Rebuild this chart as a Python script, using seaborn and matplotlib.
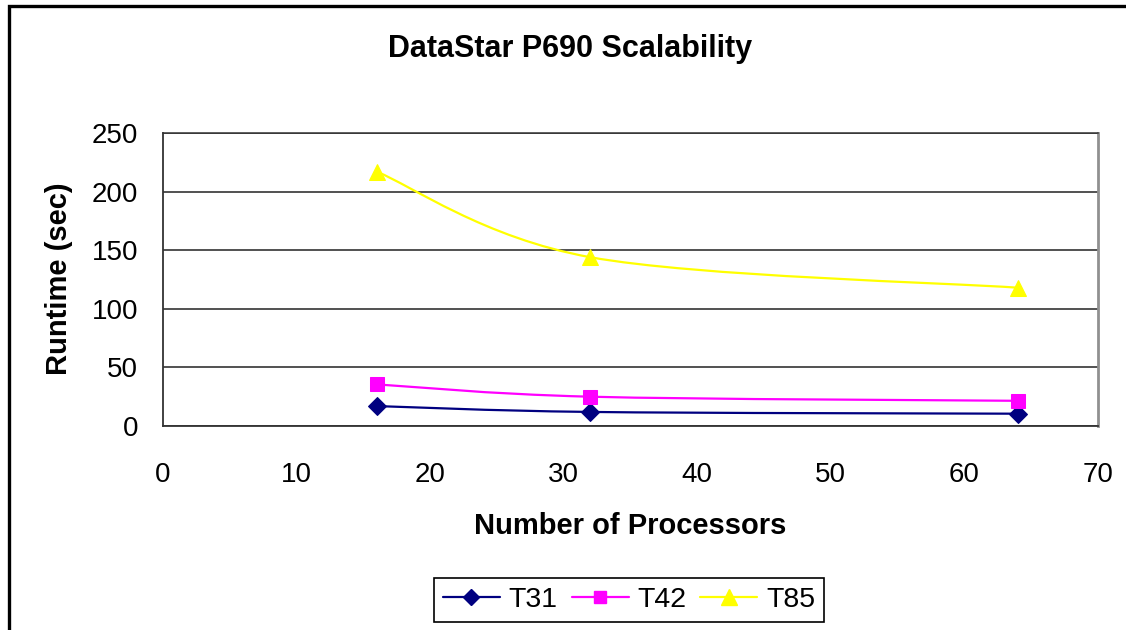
import numpy as np
import pandas as pd
import matplotlib
matplotlib.use("Agg")
import matplotlib.pyplot as plt
import seaborn as sns
from matplotlib.path import Path
from matplotlib.patches import PathPatch, Rectangle
from matplotlib.lines import Line2D

# ---- data ----
processors = [16, 32, 64]
t31 = [17, 12, 10.5]
t42 = [35.5, 25, 21.5]
t85 = [217, 144, 118]
series_names = ["T31", "T42", "T85"]
x_ticks = [0, 10, 20, 30, 40, 50, 60, 70]
y_ticks = [0, 50, 100, 150, 200, 250]
title = "DataStar P690 Scalability"
x_label = "Number of Processors"
y_label = "Runtime (sec)"

colors = {"T31": "#000080", "T42": "#FF00FF", "T85": "#FFFF00"}
markers = {"T31": "D", "T42": "s", "T85": "^"}
msizes = {"T31": 9, "T42": 10, "T85": 12}

df = pd.DataFrame({
    "Processors": processors * 3,
    "Runtime": t31 + t42 + t85,
    "Series": [s for s in series_names for _ in processors],
})

sns.set_theme(style="white")
plt.rcParams["font.family"] = ["Liberation Sans", "DejaVu Sans"]
plt.rcParams["text.color"] = "black"
plt.rcParams["axes.labelcolor"] = "black"
plt.rcParams["xtick.color"] = "black"
plt.rcParams["ytick.color"] = "black"

W, H = 1126, 630
fig = plt.figure(figsize=(W / 100, H / 100), dpi=100)
ax = fig.add_axes([163 / W, 1 - 426 / H, (1098 - 163) / W, (426 - 133) / H])


def smooth_path(xs, ys):
    """Excel-style smoothed line (Catmull-Rom as cubic Bezier)."""
    pts = np.column_stack([xs, ys]).astype(float)
    n = len(pts)
    verts = [pts[0]]
    codes = [Path.MOVETO]
    for i in range(n - 1):
        p0 = pts[i - 1] if i > 0 else pts[i]
        p1 = pts[i]
        p2 = pts[i + 1]
        p3 = pts[i + 2] if i + 2 < n else pts[i + 1]
        c1 = p1 + (p2 - p0) / 6.0
        c2 = p2 - (p3 - p1) / 6.0
        verts += [c1, c2, p2]
        codes += [Path.CURVE4] * 3
    return Path(verts, codes)


for name in series_names:
    sub = df[df["Series"] == name]
    ax.add_patch(PathPatch(smooth_path(sub["Processors"].values, sub["Runtime"].values),
                           facecolor="none", edgecolor=colors[name], lw=1.6, zorder=3))

for name in series_names:
    sub = df[df["Series"] == name]
    sns.lineplot(data=sub, x="Processors", y="Runtime", ax=ax, linestyle="",
                 marker=markers[name], markersize=msizes[name], color=colors[name],
                 markeredgecolor=colors[name], legend=False, zorder=4)

ax.set_xlim(0, 70)
ax.set_ylim(0, 250)
ax.set_xticks(x_ticks)
ax.set_yticks(y_ticks)
ax.tick_params(axis="both", labelsize=20, colors="#333333", labelcolor="black",
               length=7, width=1.2, direction="out")
ax.tick_params(axis="x", pad=19)
ax.tick_params(axis="y", pad=11)
ax.yaxis.grid(True, color="#222222", lw=1.1)
ax.xaxis.grid(False)
ax.set_axisbelow(True)

for side in ["left", "bottom"]:
    ax.spines[side].set_color("#333333")
    ax.spines[side].set_linewidth(1.3)
ax.spines["right"].set_color("#909090")
ax.spines["right"].set_linewidth(2)
ax.spines["top"].set_color("#333333")
ax.spines["top"].set_linewidth(1.1)

ax.set_xlabel(x_label, fontsize=21, fontweight="bold")
ax.set_ylabel(y_label, fontsize=21, fontweight="bold")
ax.xaxis.label.set_va("baseline")
ax.yaxis.label.set_va("center")
ax.xaxis.set_label_coords((630 - 163) / (1098 - 163), -(534 - 426) / (426 - 133))
ax.yaxis.set_label_coords(-(163 - 59) / (1098 - 163), (426 - 279) / (426 - 133))

fig.text(570 / W, 1 - 57 / H, title, fontsize=22, fontweight="bold",
         ha="center", va="baseline")

handles = [Line2D([0], [0], color=colors[n], lw=1.6, marker=markers[n],
                  markersize=msizes[n] - 1, markeredgecolor=colors[n]) for n in series_names]
leg = fig.legend(handles, series_names, loc="center", ncol=3,
                 bbox_to_anchor=(629 / W, 1 - 600 / H), fontsize=20.5,
                 frameon=True, fancybox=False, framealpha=1, edgecolor="black",
                 handlelength=2.0, handletextpad=0.3, columnspacing=0.5,
                 borderpad=0.3, borderaxespad=0)
leg.get_frame().set_linewidth(1.2)

# outer chart border
fig.patches.append(Rectangle((8.5 / W, -0.1), 1.2, 1 - 6.5 / H + 0.1,
                             transform=fig.transFigure, fill=False,
                             edgecolor="black", lw=2.4))

fig.savefig("out.png", dpi=100, facecolor="white")
